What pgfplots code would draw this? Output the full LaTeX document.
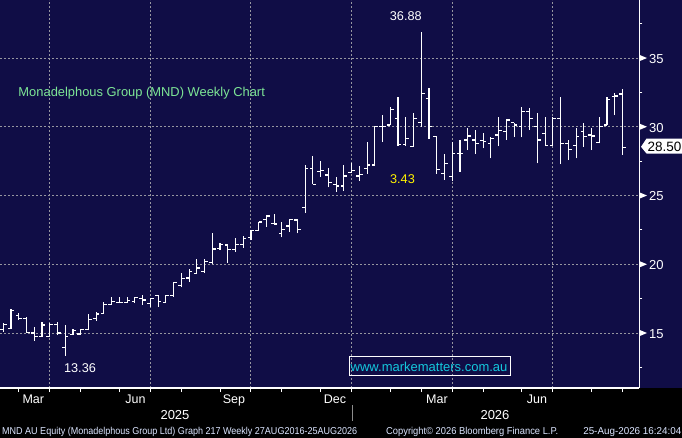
\documentclass[border=0pt]{standalone}
\usepackage{fontspec}
\setmainfont{Liberation Sans}
\usepackage{graphicx}
\usepackage{pgfplots}
\usepackage{pgfplotstable}
\pgfplotsset{compat=1.18}
\usetikzlibrary{calc,backgrounds}
\definecolor{bbnavy}{RGB}{16,13,70}
\definecolor{gridgray}{RGB}{150,150,160}
\definecolor{titlegreen}{RGB}{125,230,150}
\definecolor{wmcyan}{RGB}{20,200,220}
\definecolor{foot}{RGB}{220,230,255}
\definecolor{sepgray}{RGB}{140,140,140}

\pgfplotstableread{
n O H L C
0 15.27 15.70 15.10 15.63
1 15.33 16.72 15.29 16.62
2 16.30 16.43 15.95 16.04
3 16.04 16.14 15.02 15.03
4 15.00 15.41 14.44 14.73
5 14.73 15.78 14.73 15.58
6 14.73 15.70 14.73 15.63
7 15.60 15.82 14.85 15.00
8 13.96 15.58 13.36 14.73
9 14.90 15.27 14.85 15.15
10 14.93 15.30 14.85 15.27
11 15.27 16.38 15.20 16.00
12 16.07 16.50 15.90 16.38
13 16.43 17.28 16.43 17.10
14 17.10 17.60 17.10 17.30
15 17.20 17.60 17.15 17.20
16 17.25 17.60 17.20 17.35
17 17.30 17.60 17.20 17.57
18 17.54 17.76 17.02 17.40
19 17.15 17.57 16.87 17.50
20 17.76 17.76 16.92 17.30
21 17.20 17.76 17.20 17.70
22 17.70 18.70 17.64 18.66
23 18.47 19.39 18.32 18.98
24 19.00 19.63 18.73 19.46
25 19.35 20.38 19.29 19.73
26 19.50 20.38 19.40 20.21
27 20.10 22.30 20.00 21.11
28 21.16 21.52 21.04 21.45
29 21.40 21.45 20.11 21.08
30 21.08 21.89 20.90 21.45
31 21.45 22.06 21.20 21.89
32 21.96 22.49 21.76 22.44
33 22.44 23.07 22.44 23.07
34 23.27 23.51 22.73 23.51
35 22.98 23.66 22.93 22.93
36 22.25 23.10 21.96 22.54
37 22.78 23.29 22.37 23.27
38 23.22 23.27 22.25 22.54
39 24.14 27.22 23.75 26.98
40 26.98 27.87 25.81 25.81
41 26.73 27.50 26.37 26.80
42 26.49 26.98 25.60 25.96
43 25.81 26.37 25.28 25.69
44 25.69 27.20 25.35 26.42
45 26.66 27.34 26.66 26.80
46 26.42 27.14 26.08 26.56
47 26.98 28.90 26.60 27.22
48 27.22 30.05 27.22 30.05
49 30.05 30.85 28.90 30.00
50 30.13 31.41 30.13 31.27
51 30.61 32.14 28.60 28.74
52 28.74 30.69 28.60 29.16
53 28.55 30.98 28.55 30.61
54 30.30 36.88 30.00 32.43
55 32.07 32.80 29.10 30.00
56 29.28 29.33 26.60 26.90
57 26.57 28.02 26.13 27.34
58 26.37 28.90 26.05 28.07
59 28.07 29.03 26.73 28.07
60 29.04 29.93 28.31 29.33
61 29.04 29.76 28.02 28.79
62 28.99 29.57 28.43 28.92
63 28.79 29.28 27.70 29.16
64 29.40 30.73 28.60 29.76
65 29.64 30.54 29.04 30.49
66 30.30 30.30 29.28 30.13
67 30.00 31.41 29.23 31.10
68 31.10 31.34 29.76 30.61
69 30.05 30.98 27.34 29.04
70 29.52 30.69 28.67 28.67
71 28.67 30.69 28.67 30.61
72 30.61 32.14 27.29 28.79
73 28.79 29.04 27.58 28.36
74 28.67 29.88 27.70 29.28
75 29.64 30.25 28.55 29.28
76 29.40 29.88 28.31 29.33
77 28.84 30.73 28.79 30.00
78 30.13 32.19 30.13 32.00
79 32.19 32.48 30.85 32.24
80 32.38 32.72 27.95 28.50
}\mnd

\newcommand{\fs}[1]{\fontsize{#1bp}{#1bp}\selectfont}

\begin{document}
\begin{tikzpicture}[x=1bp,y=1bp]
\begin{axis}[
  name=ax, at={(0,0)}, anchor=south west,
  scale only axis, width=639.3bp, height=388bp,
  xmin=-0.426, xmax=82.17, ymin=11, ymax=39.22,
  axis x line*=bottom, axis y line*=right,
  axis line style={white, line width=1.2bp},
  tick align=outside,
  major tick length=4bp, minor tick length=3bp,
  xtick={6,19,32,45,58,71}, xticklabels={},
  extra x ticks={2,10,15,23,28,36,41,50,54,62,67,76,80},
  extra x tick labels={},
  extra x tick style={grid=none},
  major x tick style={white, line width=1bp},
  ytick={15,20,25,30,35}, yticklabels={},
  minor ytick={12.5,17.5,22.5,27.5,32.5,37.5},
  major y tick style={draw=none},
  minor y tick style={white, line width=1bp},
  xmajorgrids, ymajorgrids,
  major grid style={draw=gridgray, line width=1bp, dash pattern=on 2bp off 2bp},
  clip=false,
]
\addplot[draw=none, mark=none, forget plot,
  error bars/.cd, y dir=plus, y explicit, error mark=none,
  error bar style={draw=white, solid, line width=1.1bp}]
  table[x=n, y=L, y error expr=\thisrow{H}-\thisrow{L}] {\mnd};
\addplot[draw=none, mark=none, forget plot,
  error bars/.cd, x dir=minus, x fixed=0.42, error mark=none,
  error bar style={draw=white, solid, line width=1.1bp}]
  table[x=n, y=O] {\mnd};
\addplot[draw=none, mark=none, forget plot,
  error bars/.cd, x dir=plus, x fixed=0.42, error mark=none,
  error bar style={draw=white, solid, line width=1.1bp}]
  table[x=n, y=C] {\mnd};
\coordinate (O) at (rel axis cs:0,0);
\end{axis}

\begin{scope}[shift={($(O)+(0bp,-50bp)$)}]
\begin{scope}[on background layer]
\fill[black] (0,0) rectangle (682,438);
\fill[bbnavy] (0,50) rectangle (682,438);
\end{scope}

% right axis labels
\foreach \v in {15,20,25,30,35} {
  \fill[white] (639.8,{50+(\v-11)*13.749+3}) -- (647,{50+(\v-11)*13.749}) -- (639.8,{50+(\v-11)*13.749-3}) -- cycle;
  \node[anchor=base west, inner sep=0, text=white, font=\fs{13}] at (649,{50+(\v-11)*13.749-5.3}) {\v};
}
% last price box
\fill[white] (641,291.2) -- (646.5,299.5) -- (682,299.5) -- (682,284.5) -- (646.5,284.5) -- cycle;
\node[anchor=base west, inner sep=0, text=black, font=\fs{13.5}] at (647.5,286.8) {28.50};

% annotations
\node[anchor=base west, inner sep=0, text=titlegreen, font=\fs{12.9}] at (18.3,341.3) {Monadelphous Group (MND) Weekly Chart};
\node[anchor=base, inner sep=0, text=white, font=\fs{12.7}] at (405.8,418) {36.88};
\node[anchor=base, inner sep=0, text=yellow, font=\fs{12.7}] at (402.5,254.7) {3.43};
\node[anchor=base, inner sep=0, text=white, font=\fs{12.7}] at (80,65.3) {13.36};

% watermark
\draw[white, line width=1bp] (349.3,62.7) rectangle (510.7,82);
\node[anchor=base west, inner sep=0, text=wmcyan, font=\fs{13}] at (350.5,66.3) {www.markematters.com.au};

% month and year labels
\foreach \xx/\m in {33.3/Mar,135.5/Jun,234/Sep,335/Dec,437/Mar,537/Jun} {
  \node[anchor=base, inner sep=0, text=white, font=\fs{12.5}] at (\xx,34.7) {\m};
}
\node[anchor=base, inner sep=0, text=white, font=\fs{13}] at (175,18.7) {2025};
\node[anchor=base, inner sep=0, text=white, font=\fs{13}] at (495,18.7) {2026};
\draw[sepgray, line width=1bp] (352,33) -- (352,17);

% footer
\node[anchor=base west, inner sep=0, text=foot] at (2,3.5) {\resizebox{355bp}{\height}{\fs{10}MND AU Equity (Monadelphous Group Ltd) Graph 217 Weekly 27AUG2016-25AUG2026}};
\node[anchor=base west, inner sep=0, text=foot] at (386,3.5) {\resizebox{172bp}{\height}{\fs{10}Copyright© 2026 Bloomberg Finance L.P.}};
\node[anchor=base east, inner sep=0, text=foot] at (681.5,3.5) {\resizebox{98bp}{\height}{\fs{10}25-Aug-2026 16:24:04}};
\end{scope}
\pgfresetboundingbox
\path ($(O)+(0bp,-50bp)$) rectangle ($(O)+(682bp,388bp)$);
\end{tikzpicture}
\end{document}
